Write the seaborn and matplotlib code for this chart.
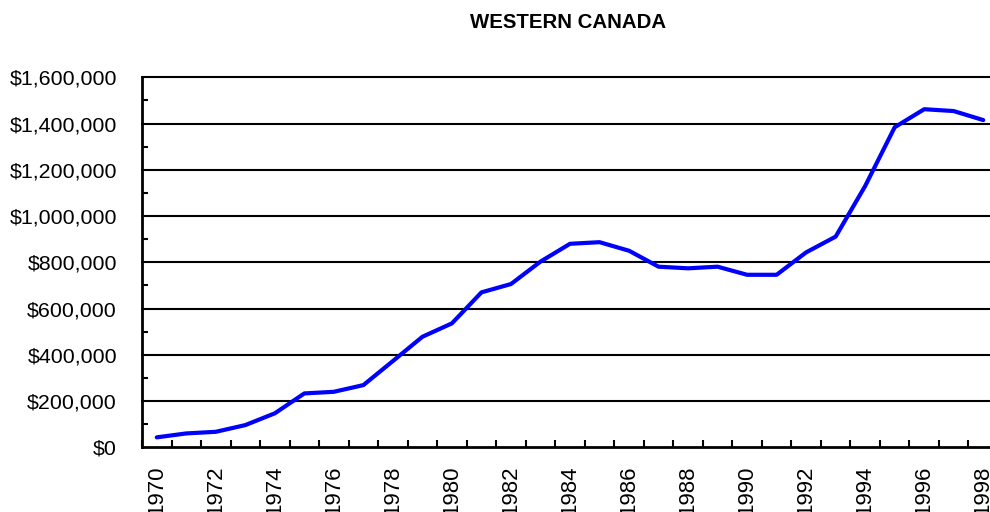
import matplotlib
matplotlib.use("Agg")
import matplotlib.pyplot as plt
import matplotlib.ticker as mticker
import seaborn as sns
import pandas as pd

years = list(range(1970, 1999))
values = [43000, 60000, 67000, 96000, 147000, 233000, 240000, 269000, 373000,
          478000, 536000, 670000, 706000, 803000, 880000, 887000, 850000,
          781000, 774000, 781000, 746000, 746000, 843000, 911000, 1130000,
          1384000, 1462000, 1454000, 1415000]
title = "WESTERN CANADA"
y_ticks = list(range(0, 1600001, 200000))

df = pd.DataFrame({"year": years, "value": values})

sns.set_style("white")
plt.rcParams['font.family'] = ['Liberation Sans', 'DejaVu Sans']

fig = plt.figure(figsize=(9.9, 5.12), dpi=100)
W, H = 990, 512
left, right, top, bottom = 142, 998, 77.3, 447.3
ax = fig.add_axes([left / W, 1 - bottom / H, (right - left) / W, (bottom - top) / H])

sns.lineplot(data=df, x="year", y="value", ax=ax, color="#0000ff", linewidth=3.0, zorder=3)

ax.set_xlim(years[0] - 0.5, years[-1] + 0.5)
ax.set_ylim(0, 1600000)
ax.set_yticks(y_ticks)
ax.yaxis.set_minor_locator(mticker.MultipleLocator(100000))
ax.yaxis.set_major_formatter(mticker.FuncFormatter(lambda v, p: "${:,.0f}".format(v)))
for yt in y_ticks[1:]:
    ax.axhline(yt, color="black", linewidth=1.5, zorder=1, clip_on=False)

ax.set_xticks(years[::2])
ax.set_xticklabels([str(y) for y in years[::2]], rotation=90)
ax.set_xticks([y - 0.5 for y in years] + [years[-1] + 0.5], minor=True)

ax.tick_params(axis="y", which="major", length=0, pad=18, labelsize=15.4, labelcolor="black")
ax.tick_params(axis="y", which="minor", direction="in", length=4, width=1.5, left=True, color="black")
ax.tick_params(axis="x", which="major", length=0, pad=13, labelsize=16, labelcolor="black")
ax.tick_params(axis="x", which="minor", direction="in", length=5, width=1.5, bottom=True, color="black")

ax.set_xlabel("")
ax.set_ylabel("")
for s in ["top", "right"]:
    ax.spines[s].set_visible(False)
for s in ["left", "bottom"]:
    ax.spines[s].set_color("black")
    ax.spines[s].set_linewidth(2)

fig.text(568 / W, 1 - 22 / H, title, ha="center", va="center", fontsize=14.7,
         fontweight="bold", color="black")

fig.savefig("out.png", dpi=100)
